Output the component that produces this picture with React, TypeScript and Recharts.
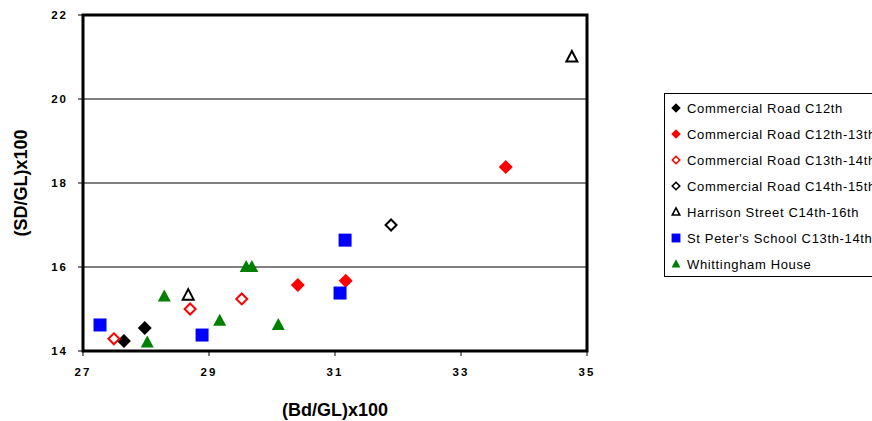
import React from "react";
import {
  ScatterChart,
  Scatter,
  XAxis,
  YAxis,
  CartesianGrid,
  ReferenceArea,
} from "recharts";

// ---- data ----
const xTicks = [27, 29, 31, 33, 35];
const yTicks = [14, 16, 18, 20, 22];

const crC12X = [27.65, 27.98];
const crC12Y = [14.24, 14.55];

const crC12_13X = [33.71, 30.41, 31.17];
const crC12_13Y = [18.38, 15.57, 15.67];

const crC13_14X = [27.49, 28.7, 29.52];
const crC13_14Y = [14.29, 15.0, 15.24];

const crC14_15X = [31.89];
const crC14_15Y = [17.0];

const harrisonX = [34.76, 28.67];
const harrisonY = [21.0, 15.33];

const stPeterX = [27.27, 28.89, 31.16, 31.08];
const stPeterY = [14.62, 14.38, 16.64, 15.38];

const whittX = [28.02, 28.29, 29.17, 29.59, 29.68, 30.1];
const whittY = [14.2, 15.3, 14.72, 16.0, 16.0, 14.62];

const seriesNames = [
  "Commercial Road C12th",
  "Commercial Road C12th-13th",
  "Commercial Road C13th-14th",
  "Commercial Road C14th-15th",
  "Harrison Street C14th-16th",
  "St Peter's School C13th-14th",
  "Whittingham House",
];

const zip = (xs: number[], ys: number[]) => xs.map((x, i) => ({ x, y: ys[i] }));

// ---- marker shapes ----
type Kind = "diamond" | "openDiamond" | "square" | "triangle" | "openTriangle";

const Marker = ({ kind, color, cx, cy, k = 1 }: { kind: Kind; color: string; cx: number; cy: number; k?: number }) => {
  if (kind === "diamond") {
    const r = 7 * k;
    return (
      <polygon
        points={`${cx},${cy - r} ${cx + r},${cy} ${cx},${cy + r} ${cx - r},${cy}`}
        fill={color}
      />
    );
  }
  if (kind === "openDiamond") {
    const r = 5.5 * k;
    return (
      <polygon
        points={`${cx},${cy - r} ${cx + r},${cy} ${cx},${cy + r} ${cx - r},${cy}`}
        fill="#fff"
        stroke={color}
        strokeWidth={2 * Math.max(k, 0.8)}
      />
    );
  }
  if (kind === "square") {
    const s = 13 * k;
    return <rect x={cx - s / 2} y={cy - s / 2} width={s} height={s} fill={color} />;
  }
  if (kind === "triangle") {
    return (
      <polygon
        points={`${cx},${cy - 7 * k} ${cx + 6.5 * k},${cy + 5 * k} ${cx - 6.5 * k},${cy + 5 * k}`}
        fill={color}
      />
    );
  }
  return (
    <polygon
      points={`${cx},${cy - 6 * k} ${cx + 5.5 * k},${cy + 4.5 * k} ${cx - 5.5 * k},${cy + 4.5 * k}`}
      fill="#fff"
      stroke={color}
      strokeWidth={2 * Math.max(k, 0.8)}
      strokeLinejoin="miter"
    />
  );
};

const shapeFor = (kind: Kind, color: string) => (props: any) =>
  <Marker kind={kind} color={color} cx={props.cx} cy={props.cy} />;

const series: { name: string; data: { x: number; y: number }[]; kind: Kind; color: string }[] = [
  { name: seriesNames[0], data: zip(crC12X, crC12Y), kind: "diamond", color: "#000000" },
  { name: seriesNames[1], data: zip(crC12_13X, crC12_13Y), kind: "diamond", color: "#FF0000" },
  { name: seriesNames[2], data: zip(crC13_14X, crC13_14Y), kind: "openDiamond", color: "#FF0000" },
  { name: seriesNames[3], data: zip(crC14_15X, crC14_15Y), kind: "openDiamond", color: "#000000" },
  { name: seriesNames[4], data: zip(harrisonX, harrisonY), kind: "openTriangle", color: "#000000" },
  { name: seriesNames[5], data: zip(stPeterX, stPeterY), kind: "square", color: "#0000FF" },
  { name: seriesNames[6], data: zip(whittX, whittY), kind: "triangle", color: "#008000" },
];

const FONT = "'Liberation Sans', Arial, sans-serif";

const tickStyle = {
  fontFamily: FONT,
  fontSize: 11.5,
  fontWeight: 700,
  fill: "#000",
  letterSpacing: 2,
};

const LegendBox = () => (
  <div
    style={{
      position: "absolute",
      left: 664,
      top: 93,
      width: 240,
      height: 184,
      border: "1px solid #000",
      background: "#fff",
      boxSizing: "border-box",
      fontFamily: FONT,
      fontSize: 13,
    }}
  >
    {series.map((s, i) => (
      <div
        key={s.name}
        style={{
          position: "absolute",
          left: 0,
          top: 6 + i * 26,
          height: 16,
          display: "flex",
          alignItems: "center",
          whiteSpace: "nowrap",
        }}
      >
        <svg width={21} height={16} style={{ display: "block" }}>
          <Marker kind={s.kind} color={s.color} cx={11} cy={8} k={0.68} />
        </svg>
        <span style={{ marginLeft: 1, letterSpacing: 0.65, color: "#000" }}>{s.name}</span>
      </div>
    ))}
  </div>
);

export default function App() {
  return (
    <div style={{ position: "absolute", left: 0, top: 0, width: 872, height: 421, background: "#fff", overflow: "hidden" }}>
      <ScatterChart
        width={872}
        height={421}
        margin={{ top: 15, right: 285, bottom: 0, left: 0 }}
      >
        <CartesianGrid horizontal vertical={false} stroke="#000" strokeWidth={1} strokeOpacity={1} />
        <XAxis
          type="number"
          dataKey="x"
          domain={[27, 35]}
          ticks={xTicks}
          allowDataOverflow
          axisLine={false}
          tickLine={{ stroke: "#000", strokeWidth: 1 }}
          tickSize={5}
          tickMargin={12}
          tick={tickStyle}
          height={70}
          label={{
            content: (props: any) => {
              const vb = props.viewBox || { x: 83, y: 351, width: 504, height: 70 };
              return (
                <text
                  x={vb.x + vb.width / 2}
                  y={vb.y + 65}
                  textAnchor="middle"
                  fontFamily={FONT}
                  fontSize={18}
                  fontWeight={700}
                  fill="#000"
                >
                  (Bd/GL)x100
                </text>
              );
            },
          }}
        />
        <YAxis
          type="number"
          dataKey="y"
          domain={[14, 22]}
          ticks={yTicks}
          allowDataOverflow
          axisLine={false}
          tickLine={{ stroke: "#000", strokeWidth: 1 }}
          tickSize={5}
          tickMargin={10}
          tick={tickStyle}
          width={83}
          label={{
            content: (props: any) => {
              const vb = props.viewBox || { x: 0, y: 15, width: 83, height: 336 };
              const cx = 21;
              const cy = vb.y + vb.height / 2;
              return (
                <text
                  x={cx}
                  y={cy}
                  transform={`rotate(-90 ${cx} ${cy})`}
                  textAnchor="middle"
                  dominantBaseline="central"
                  fontFamily={FONT}
                  fontSize={18}
                  fontWeight={700}
                  fill="#000"
                >
                  (SD/GL)x100
                </text>
              );
            },
          }}
        />
        <ReferenceArea
          x1={27}
          x2={35}
          y1={14}
          y2={22}
          fill="none"
          fillOpacity={0}
          stroke="#000"
          strokeWidth={3}
          ifOverflow="visible"
        />
        {series.map((s) => (
          <Scatter
            key={s.name}
            name={s.name}
            data={s.data}
            shape={shapeFor(s.kind, s.color)}
            isAnimationActive={false}
          />
        ))}
      </ScatterChart>
      <LegendBox />
    </div>
  );
}
